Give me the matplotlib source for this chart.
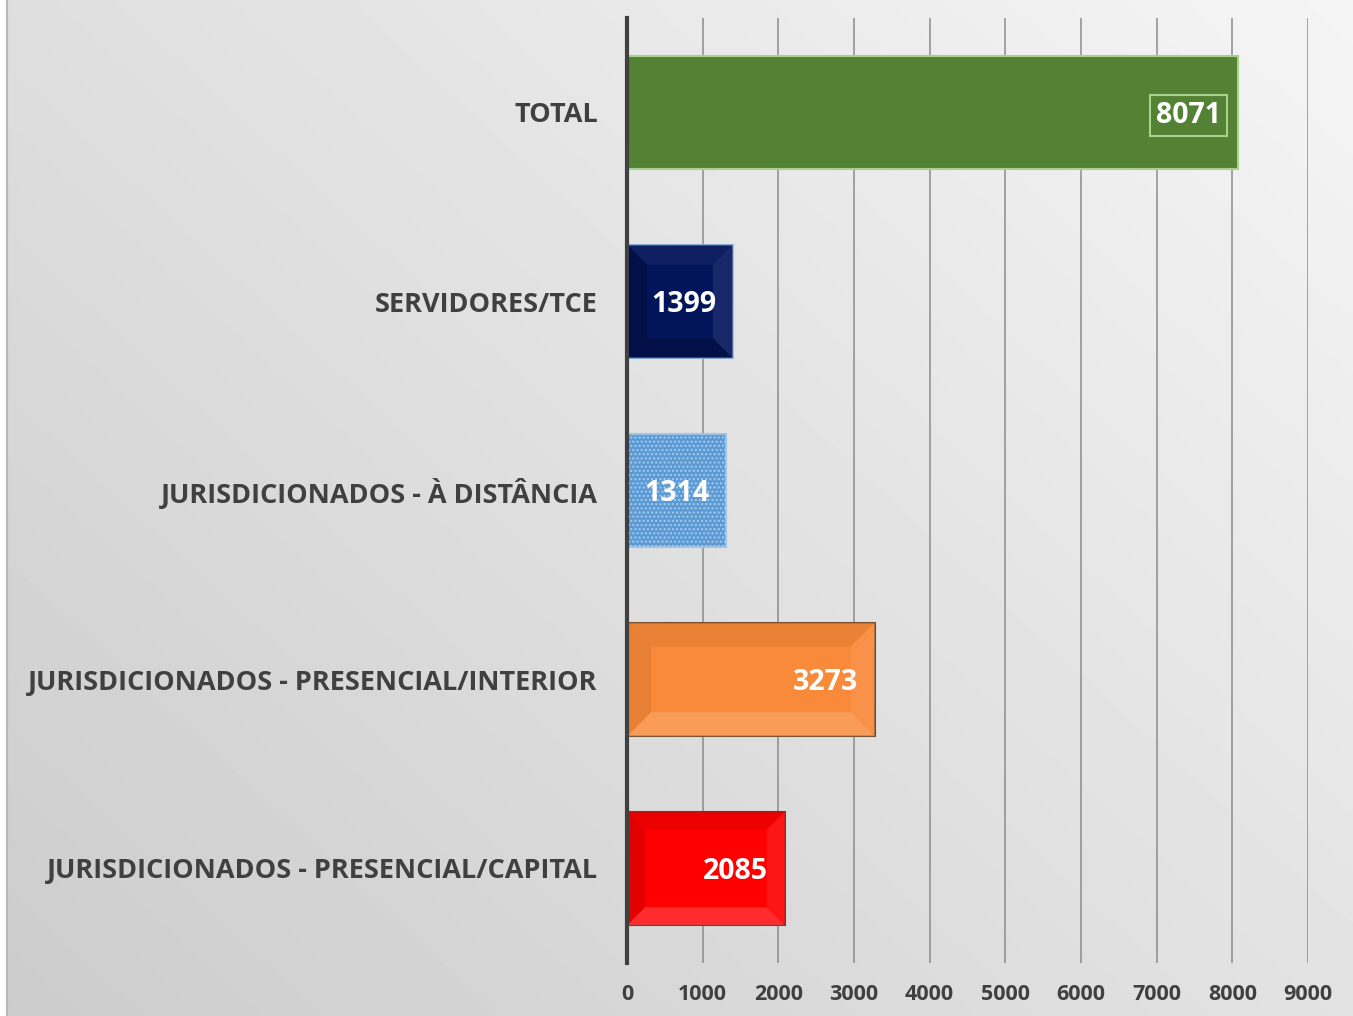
import numpy as np
import matplotlib
matplotlib.use("Agg")
import matplotlib.pyplot as plt
from matplotlib.patches import Polygon, Rectangle

categories = ["JURISDICIONADOS - PRESENCIAL/CAPITAL",
              "JURISDICIONADOS - PRESENCIAL/INTERIOR",
              "JURISDICIONADOS - À DISTÂNCIA",
              "SERVIDORES/TCE",
              "TOTAL"]
values = [2085, 3273, 1314, 1399, 8071]
colors = ["#fe0000", "#f98a3a", "#5b9bd5", "#03155a", "#548235"]
edge_colors = ["#8a2a2a", "#6a4a30", "#9dc3e6", "#9dc3e6", "#a9d18e"]
xticks = [0, 1000, 2000, 3000, 4000, 5000, 6000, 7000, 8000, 9000]

W, H = 1353, 1016
fig = plt.figure(figsize=(W / 100, H / 100), dpi=100)

# background gradient
bg = fig.add_axes([0, 0, 1, 1])
bg.set_xlim(0, 1)
bg.set_ylim(0, 1)
bg.axis("off")
yy, xx = np.mgrid[0:1:200j, 0:1:200j]
g = 0.80 + 0.16 * (0.55 * xx + 0.45 * yy)
bg.imshow(g, extent=[7 / W, 1, 0, 1], origin="lower", cmap="gray", vmin=0, vmax=1,
          aspect="auto", interpolation="bicubic")
bg.add_patch(Rectangle((0, 0), 6 / W, 1, color="white", transform=bg.transAxes))
bg.axvline(6.5 / W, color="#b8b8b8", lw=1.5)

ax = fig.add_axes([627 / W, 1 - 963 / H, (1308 - 627) / W, (963 - 18) / H])
ax.set_facecolor("none")
ax.set_xlim(0, 9000)
ax.set_ylim(-0.5, 4.5)
ax.set_xticks(xticks)
ax.set_xticklabels([str(t) for t in xticks])
ax.grid(axis="x", color="#8c8c8c", lw=1.1)
ax.set_axisbelow(True)
for s in ["top", "right", "bottom"]:
    ax.spines[s].set_visible(False)
ax.spines["left"].set_color("#404040")
ax.spines["left"].set_linewidth(3)
ax.spines["left"].set_zorder(5)
ax.tick_params(axis="both", length=0)
ax.tick_params(axis="x", pad=15, labelsize=15.5, labelcolor="#404040")
ax.tick_params(axis="y", pad=21, labelsize=19.5, labelcolor="#404040")
ypos = np.arange(len(categories))
ax.set_yticks(ypos)
ax.set_yticklabels(categories)
for lab in ax.get_xticklabels() + ax.get_yticklabels():
    lab.set_fontfamily("Open Sans")
    lab.set_fontweight("bold")

bh = 0.6
bars = ax.barh(ypos, values, height=bh, color=colors, edgecolor=edge_colors,
               linewidth=1.5, zorder=3)

# bevel effect for some bars
px_x = 9000 / (1308 - 627)
px_y = 5 / (963 - 18)
def shade(c, f):
    c = np.array(matplotlib.colors.to_rgb(c))
    if f > 0:
        return tuple(c + (1 - c) * f)
    return tuple(c * (1 + f))

bevel = {0: (18, [-0.1, 0.25, -0.15, 0.12]),
         1: (24, [-0.08, 0.22, -0.1, 0.1]),
         3: (20, [0.06, -0.3, -0.3, 0.12])}
for i, (d, fs) in bevel.items():
    v = values[i]
    y0, y1 = ypos[i] - bh / 2, ypos[i] + bh / 2
    dx, dy = d * px_x, d * px_y
    c = colors[i]
    top = [(0, y1), (v, y1), (v - dx, y1 - dy), (dx, y1 - dy)]
    bot = [(0, y0), (v, y0), (v - dx, y0 + dy), (dx, y0 + dy)]
    left = [(0, y0), (0, y1), (dx, y1 - dy), (dx, y0 + dy)]
    right = [(v, y0), (v, y1), (v - dx, y1 - dy), (v - dx, y0 + dy)]
    for poly, f in zip([top, bot, left, right], fs):
        ax.add_patch(Polygon(poly, closed=True, facecolor=shade(c, f), edgecolor="none",
                             alpha=0.7, zorder=3.5))

# dotted texture on light blue bar
plt.rcParams["hatch.linewidth"] = 1.0
ax.barh([ypos[2]], [values[2]], height=bh, color="none", edgecolor="#a9c9ea",
        hatch="....", linewidth=0, zorder=3.6)

for i, v in enumerate(values):
    kw = {}
    if i == 4:
        kw["bbox"] = dict(boxstyle="square,pad=0.22", fc="none", ec="#a9d18e", lw=1.5)
    ax.annotate(str(v), (v, ypos[i]), xytext=(-12 if i == 4 else -12, -2),
                textcoords="offset points", ha="right", va="center",
                fontsize=20.5, fontweight="bold", color="white",
                fontfamily="Open Sans", zorder=6, **kw)

fig.savefig("out.png", dpi=100)
